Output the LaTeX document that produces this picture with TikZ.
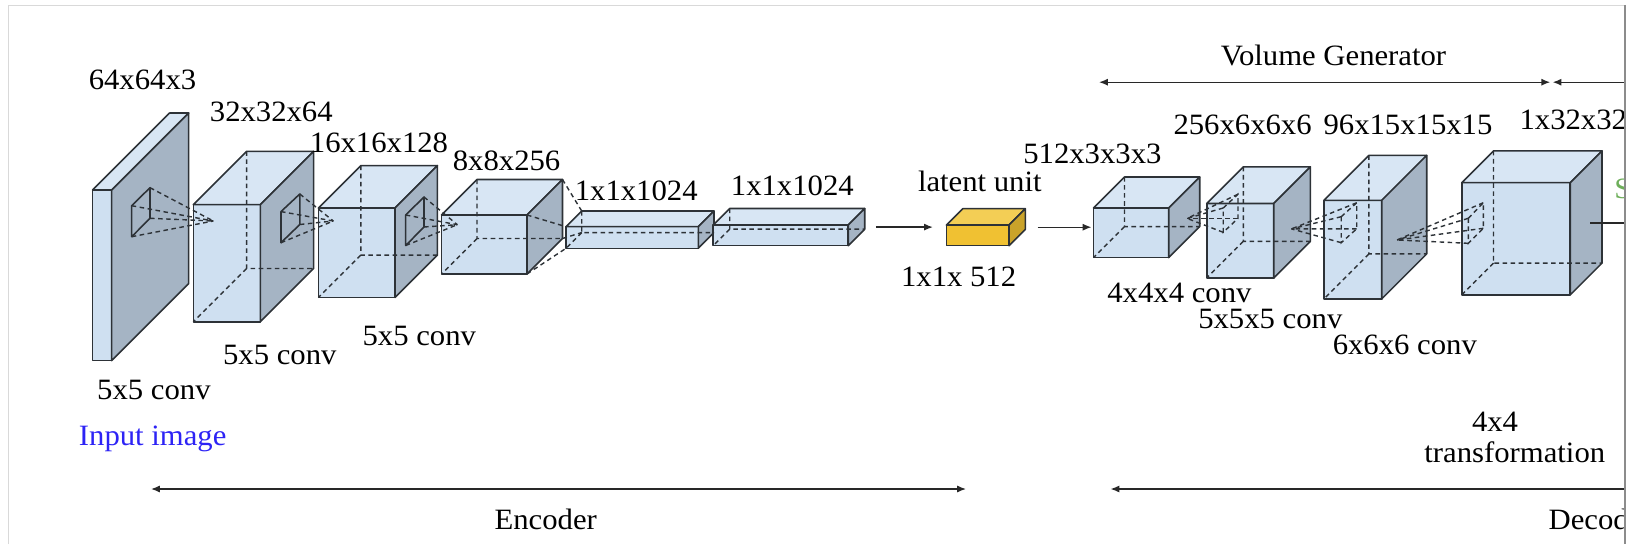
\documentclass[tikz,border=0pt]{standalone}
\usepackage{fontspec}
\setmainfont{Liberation Serif}[FakeStretch=1.04]
\usepackage{tikz}
\usetikzlibrary{arrows.meta}

\definecolor{kubefront}{RGB}{207,224,241}
\definecolor{kubetop}{RGB}{216,230,244}
\definecolor{kubeside}{RGB}{165,180,196}
\definecolor{latfront}{RGB}{240,193,50}
\definecolor{lattop}{RGB}{243,206,85}
\definecolor{latside}{RGB}{202,163,42}
\definecolor{kantgraa}{RGB}{45,50,55}
\definecolor{pilgraa}{RGB}{40,40,40}
\definecolor{innblaa}{RGB}{45,35,245}
\definecolor{silgroenn}{RGB}{110,175,90}

\tikzset{
  kant/.style={draw=kantgraa, line width=0.9pt, line join=round},
  skjult/.style={draw=kantgraa, line width=0.8pt, dash pattern=on 2.6pt off 2pt},
  pil/.style={draw=pilgraa, line width=0.75pt, >={Latex[length=5pt,width=4pt]}},
  tekst/.style={inner sep=0pt, font=\fontsize{16.8}{20}\selectfont},
}

% boks: navn, x, y, bredde, hoyde, dybde, farge
\newcommand{\blok}[7]{%
  \begin{scope}[shift={(#2,#3)}]
    \coordinate (#1-ftl) at (0,0);
    \coordinate (#1-ftr) at (#4,0);
    \coordinate (#1-fbr) at (#4,#5);
    \coordinate (#1-fbl) at (0,#5);
    \coordinate (#1-btl) at (#6,-#6);
    \coordinate (#1-btr) at (#4+#6,-#6);
    \coordinate (#1-bbr) at (#4+#6,#5-#6);
    \coordinate (#1-bbl) at (#6,#5-#6);
    \coordinate (#1-e) at (#4+#6/2,#5/2-#6/2);
    \filldraw[kant, fill=#7front] (#1-ftl) rectangle (#1-fbr);
    \filldraw[kant, fill=#7top] (#1-ftl) -- (#1-btl) -- (#1-btr) -- (#1-ftr) -- cycle;
    \filldraw[kant, fill=#7side] (#1-ftr) -- (#1-btr) -- (#1-bbr) -- (#1-fbr) -- cycle;
  \end{scope}}

% skjulte kanter
\newcommand{\gjemt}[1]{\draw[skjult] (#1-btl) -- (#1-bbl) -- (#1-bbr) (#1-bbl) -- (#1-fbl);}

% kjerne: navn, stil, fire hjorner, spiss
\newcommand{\kjerne}[7]{%
  \coordinate (#1-a) at #3;
  \coordinate (#1-b) at #4;
  \coordinate (#1-c) at #5;
  \coordinate (#1-d) at #6;
  \coordinate (#1-p) at #7;
  \draw[#2] (#1-a) -- (#1-b) -- (#1-c) -- (#1-d) -- cycle;
  \foreach \h in {a,b,c,d} {\draw[skjult] (#1-\h) -- (#1-p);}}

\begin{document}
\begin{tikzpicture}[x=0.02cm, y=-0.02cm]
  \useasboundingbox (0,0) rectangle (1628,544);
  \begin{scope}
    \clip (0,0) rectangle (1625,544);

    % Koder
    \blok{inn}{92.6}{190}{19.1}{170.6}{77}{kube}
    \blok{k1}{193.3}{204.6}{67}{117.2}{53.3}{kube}
    \blok{k2}{318.4}{208}{76.6}{89.5}{42.4}{kube}
    \blok{k3}{441.5}{215}{85.5}{59}{35.5}{kube}
    \blok{f1}{566}{226.7}{132.3}{21.6}{15.7}{kube}
    \blok{f2}{713.2}{225}{135}{20.7}{16.5}{kube}

    % Latent
    \blok{lat}{946.4}{225}{62.6}{20.7}{16.3}{lat}

    % Volumgenerator
    \blok{v1}{1093.5}{208}{75.2}{49.6}{31}{kube}
    \blok{v2}{1206.7}{203.5}{67}{74.5}{36.6}{kube}
    \blok{v3}{1323.9}{200.4}{57.8}{98.5}{45}{kube}
    \blok{v4}{1461.7}{182.7}{108.5}{112.2}{31.8}{kube}

    \foreach \b in {k1,k2,k3,f1,f2,v1,v2,v3,v4} {\gjemt{\b}}

    % Kjerner
    \kjerne{kj1}{kant}{(131.7,205.7)}{(150,187.7)}{(150,218.3)}{(131.7,236.7)}{(213.3,221)}
    \kjerne{kj2}{kant}{(281,211.6)}{(299.8,194)}{(299.8,224.5)}{(281,242.7)}{(333.3,221)}
    \kjerne{kj3}{kant}{(405.7,215)}{(424,197)}{(424,227)}{(405.7,245.5)}{(457.3,224.7)}
    \draw[skjult] (k3-btr) -- (f1-btl) (k3-ftr) -- (f1-ftl) (k3-fbr) -- (f1-fbl) (k3-bbr) -- (f1-bbl);

    \kjerne{kj4}{skjult}{(1223.2,208)}{(1238,194.2)}{(1238,218.4)}{(1223.2,232.3)}{(1187.1,218.4)}
    \kjerne{kj5}{skjult}{(1341.2,216.7)}{(1356.7,202.8)}{(1356.7,228.8)}{(1341.2,242.7)}{(1291.5,228.9)}
    \kjerne{kj6}{skjult}{(1468.3,218.3)}{(1483.3,202.7)}{(1483.3,228.3)}{(1468.3,243.3)}{(1397,240)}

    % Piler
    \draw[pil,->,shorten <=0.39cm,shorten >=0.27cm] (f2-e) -- (f2-e -| lat-ftl);
    \draw[pil,->,shorten <=0.41cm,shorten >=0.04cm] (lat-e) -- (lat-e -| v1-ftl);
    \coordinate (ut) at (1640,0);
    \draw[pil,shorten <=0.08cm] (v4-e) -- (v4-e -| ut);

    \coordinate (enc-l) at (151,489);
    \coordinate (enc-r) at (966,489);
    \draw[pil,<->] (enc-l) -- (enc-r);
    \coordinate (dec-l) at (1110.5,489);
    \coordinate (dec-r) at (1640,489);
    \draw[pil,<-] (dec-l) -- (dec-r);
    \coordinate (vg-l) at (1099,82.2);
    \coordinate (vg-r) at (1550.2,82.2);
    \draw[pil,<->] (vg-l) -- (vg-r);
    \coordinate (pt-l) at (1552.6,82.2);
    \coordinate (pt-r) at (1640,82.2);
    \draw[pil,<-] (pt-l) -- (pt-r);

    % Tekster
    \node[tekst] (d-inn) at (142.5,80) {64x64x3};
    \node[tekst] (d-k1) at (271.3,111.7) {32x32x64};
    \node[tekst] (d-k2) at (379,143) {16x16x128};
    \node[tekst] (d-k3) at (506.6,161) {8x8x256};
    \node[tekst] (d-f1) at (636.2,190.7) {1x1x1024};
    \node[tekst] (d-f2) at (792.3,186) {1x1x1024};
    \node[tekst] (t-lat) at (979.8,181.5) {latent unit};
    \node[tekst] (d-lat) at (958.6,276.7) {1x1x 512};
    \node[tekst] (d-v1) at (1092.4,153.6) {512x3x3x3};
    \node[tekst] (d-v2) at (1242.6,124.8) {256x6x6x6};
    \node[tekst] (d-v3) at (1408,124.8) {96x15x15x15};
    \node[tekst,anchor=west] (d-v4) at (1519.2,119.6) {1x32x32x32};
    \node[tekst] (c-inn) at (153.9,389.5) {5x5 conv};
    \node[tekst] (c-k1) at (279.8,355.4) {5x5 conv};
    \node[tekst] (c-k2) at (419.3,336) {5x5 conv};
    \node[tekst,text=innblaa,anchor=base] (t-inn) at (152.7,445) {Input image};
    \node[tekst] (c-v1) at (1179.4,293) {4x4x4 conv};
    \node[tekst] (c-v2) at (1270.3,319) {5x5x5 conv};
    \node[tekst] (c-v3) at (1404.8,345) {6x6x6 conv};
    \node[tekst] (t-4x4) at (1495,421.5) {4x4};
    \node[tekst] (t-trans) at (1514.8,452) {transformation};
    \node[tekst] (t-enc) at (545.7,519) {Encoder};
    \node[tekst,anchor=west] (t-dec) at (1548.3,519) {Decoder};
    \node[tekst] (t-vg) at (1333.5,55.5) {Volume Generator};
    \node[tekst,text=silgroenn,anchor=west] (t-s) at (1614,189) {S};
  \end{scope}

  % Ramme
  \draw[draw=black!15, line width=0.5pt] (8,544) -- (8,5) -- (1625,5);
  \draw[draw=black!45, line width=0.7pt] (1625,5) -- (1625,544);
\end{tikzpicture}
\end{document}
